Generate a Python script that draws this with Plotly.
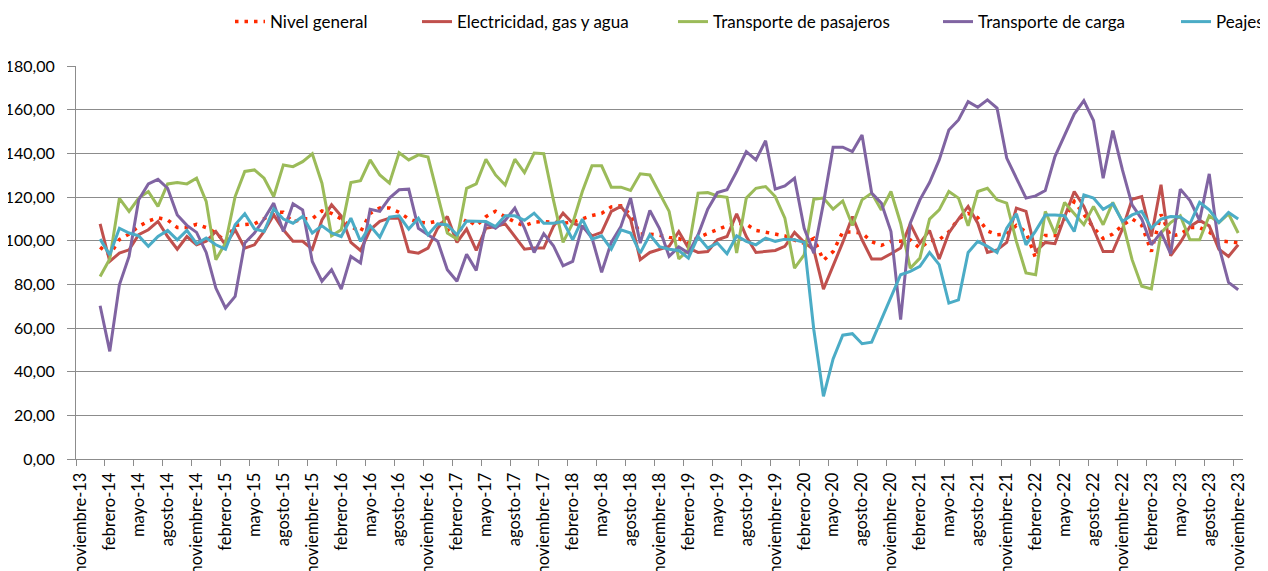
import plotly.graph_objects as go

# ---- categories (monthly, nov-2013 .. nov-2023) ----
month_names = ["enero", "febrero", "marzo", "abril", "mayo", "junio", "julio",
               "agosto", "septiembre", "octubre", "noviembre", "diciembre"]
categories = []
y, m = 2013, 11
while (y, m) <= (2023, 11):
    categories.append(f"{month_names[m-1]}-{str(y)[2:]}")
    m += 1
    if m > 12:
        m, y = 1, y + 1

# series values (first two months have no data)
nivel_general = [None, None,
    97, 93.5, 100.5, 103, 106.5, 109, 110.5, 109.5, 106, 106, 107.5, 106, 103.5, 99.5, 107, 107.5, 107.7, 110, 113,
    113, 108.5, 110, 110, 113.6, 112.5, 110, 106.5, 104, 112.5, 115, 115, 113, 110, 108.5, 108, 109, 105, 102, 110,
    106.8, 111, 113.5, 111, 108.5, 106.8, 108.5, 108.8, 108.4, 108, 108.5, 110, 111.5, 112.5, 115.5, 116, 112, 103, 103, 102.5,
    101.5, 101, 98.7, 101.5, 103.2, 105.3, 106.8, 108, 107.5, 104.7, 103.8, 103.2, 102.2, 100.2, 98.8, 101, 91, 95, 104, 104,
    103.5, 99.5, 97.8, 99.7, 99.7, 100.4, 96.5, 100, 100.4, 104, 110, 112.5, 110.5, 104.5, 102.7, 103, 107, 104, 92,
    102.4, 102.4, 110, 118, 112, 106, 101, 103, 107, 110, 107, 95, 112, 102, 103, 106, 106, 104, 100, 99.5, 99]

electricidad = [None, None,
    107.7, 90.5, 94.3, 95.8, 102.7, 105, 108.8, 101.9, 96.1, 101.9, 98.1, 99.7, 104.2, 98.1, 105, 96.6, 98.1, 104.2, 111.8,
    105, 99.7, 99.7, 96.1, 109.5, 116.4, 111.3, 99.2, 95.5, 105, 108.8, 110.3, 110.3, 95, 94.3, 96.6, 105.7, 111.1, 99.2, 105.3,
    95.5, 105.7, 106.5, 107.7, 101.9, 96.1, 96.6, 96.6, 106.5, 112.6, 108, 106.5, 102.2, 103.8, 113.4, 115.7, 109.9, 91.3, 94.6, 96.1,
    97.4, 104.2, 96.6, 94.6, 95, 100.4, 101.9, 112.3, 101.9, 94.6, 95, 95.5, 97.4, 103.8, 99.2, 95.8, 77.8, 88.5, 99.2, 111,
    100.4, 91.6, 91.6, 94, 96.6, 107.7, 98.9, 104.7, 91.6, 103.5, 109.9, 115.7, 108, 94.6, 95.8, 99.2, 114.9, 113.4, 95,
    99.2, 98.6, 110.8, 122.5, 115.7, 105.7, 95, 95, 105.3, 119, 120.2, 101.9, 125.6, 93.1, 99.2, 106.5, 109.3, 106.8, 96.1, 92.8, 98.1]

pasajeros = [None, None,
    83.6, 91.6, 119.4, 113.4, 119.5, 122.5, 115.7, 126, 126.6, 126, 128.6, 118, 91.3, 98.9, 120.2, 131.7, 132.4, 128.6, 120.2,
    134.7, 133.9, 136.2, 139.8, 126.3, 102.2, 105, 126.6, 127.5, 137, 130.1, 126.3, 140.3, 137, 139.3, 138.3, 120.2, 103.5, 100.7, 124,
    126, 137.3, 130.1, 125.5, 137.3, 131.2, 140.1, 139.8, 118.7, 99.2, 108, 122.5, 134.3, 134.3, 124.5, 124.5, 123, 130.6, 130.1, 121.8,
    113.4, 91.6, 95.8, 121.8, 122, 120.5, 119.9, 94.3, 119.5, 124, 124.8, 120.2, 110.3, 87.4, 93.5, 119, 119.5, 114.4, 118.2, 107,
    118.7, 121.8, 114.1, 122.5, 108, 87.4, 92, 109.9, 114.1, 122.5, 119.5, 106.8, 122.5, 124, 118.7, 117.2, 99.7, 85.2, 84.4,
    113.4, 103.2, 117.5, 112.3, 107.3, 115.7, 107.3, 117.5, 108.8, 91.3, 79.1, 77.9, 103.5, 108.3, 111.4, 100.4, 100.4, 111.4, 108.3, 112.3, 103.5]

carga = [None, None,
    70.2, 49.3, 79.8, 92.8, 118.7, 126, 128.1, 124, 111.8, 107, 103.8, 94.6, 78.3, 69.2, 74.5, 98.9, 103.5, 109.9, 117.2,
    104.2, 116.9, 114.1, 90.5, 81.4, 86.7, 77.8, 92.8, 89.8, 114.4, 113.4, 119.5, 123.3, 123.6, 105.7, 102.7, 99.7, 86.7, 81.4, 93.8,
    86.4, 108, 105.7, 109.3, 114.9, 105.7, 94.6, 103.2, 97.7, 88.5, 90.5, 106.8, 101.2, 85.5, 99.2, 106.5, 119.5, 98.9, 113.8, 105.5,
    92.8, 97.1, 94.3, 102.7, 114.4, 122, 123.3, 131.7, 140.8, 137, 145.8, 123.6, 125.1, 128.6, 105.7, 94.3, 117.2, 142.8, 142.8, 140.8,
    148.4, 121.8, 117.2, 104.2, 63.8, 108, 118.7, 126.6, 137, 150.7, 155.3, 163.7, 161.1, 164.5, 160.7, 137.8, 128.6, 119.5, 120.5,
    123, 138.5, 148.4, 158, 164.1, 155, 128.6, 150.4, 132.4, 116.4, 109.9, 98.1, 103.8, 94, 123.6, 118.4, 109.3, 130.6, 97.4, 80.9, 77.5]

peajes = [None, None,
    100.7, 93.5, 105.7, 103.5, 102.2, 97.4, 101.9, 104.7, 100.4, 104.7, 98.6, 101.2, 98.1, 96.1, 107.3, 112.3, 105.4, 104.2, 114.5,
    109.9, 108, 111.1, 103.5, 106.8, 103.5, 101.9, 110.3, 99.7, 106.8, 101.6, 110.8, 111.4, 105.3, 110.3, 102.7, 107.7, 107.2, 102.7, 109,
    108.8, 108.8, 106.5, 111.4, 111.4, 109.3, 112.6, 108, 108, 108.8, 100.4, 109.9, 100.7, 102.2, 96.1, 105, 103.5, 94.3, 102.7, 97.2,
    96.1, 95.5, 92, 101.9, 96.6, 98.9, 94, 102.2, 99.7, 98.1, 101.2, 99.7, 100.7, 100.4, 99.2, 59.2, 28.7, 45.8, 56.7, 57.4,
    52.8, 53.5, 63.8, 74.2, 84.4, 85.9, 88.2, 94.6, 89, 71.4, 72.9, 94.6, 99.7, 97.4, 94.6, 105.7, 112.3, 98.1, 104.5,
    111.8, 111.8, 111.4, 104.2, 121, 119.5, 114.4, 116.9, 108.8, 111.8, 113.4, 105.7, 109.9, 111.1, 110.8, 107.7, 117.5, 114.1, 108.3, 112.9, 109.9]

y_ticks = [0, 20, 40, 60, 80, 100, 120, 140, 160, 180]
label_step = 3

# ---- figure ----
x_idx = list(range(len(categories)))
series = [
    ("Nivel general", nivel_general, "#FF2A00", "3.5px,6px", 3.5),
    ("Electricidad, gas y agua", electricidad, "#C0504D", "solid", 3),
    ("Transporte de pasajeros", pasajeros, "#9BBB59", "solid", 3),
    ("Transporte de carga", carga, "#8064A2", "solid", 3),
    ("Peajes", peajes, "#4BACC6", "solid", 3),
]
legend_ids = ["legend", "legend2", "legend3", "legend4", "legend5"]
legend_text_px = [270, 457, 713, 978, 1216]   # page x where each legend text starts

fig = go.Figure()
for (name, vals, color, dash, w), lid in zip(series, legend_ids):
    fig.add_trace(go.Scatter(x=x_idx, y=vals, name=name, mode="lines",
                             line=dict(color=color, width=w, dash=dash),
                             connectgaps=False, legend=lid, showlegend=True))

# page has an 8px body margin; figure is sized so it ends at the window edge
PAGE_OFF = 8
W, H = 1268 - PAGE_OFF, 571 - PAGE_OFF
plot_left, plot_right, plot_top, plot_bottom = 76, 1243, 66, 459.5   # page px
L = plot_left - PAGE_OFF
T = plot_top - PAGE_OFF
R = (W + PAGE_OFF) - plot_right
B = (H + PAGE_OFF) - plot_bottom
plot_w = plot_right - plot_left
plot_h = plot_bottom - plot_top
font_fam = "Lato, 'Open Sans', sans-serif"

legend_common = dict(orientation="h", yanchor="middle", xanchor="left",
                     y=1 + (plot_top - 22) / plot_h, bgcolor="rgba(0,0,0,0)",
                     font=dict(family=font_fam, size=17, color="#000"))
layout_legends = {}
for lid, tx in zip(legend_ids, legend_text_px):
    layout_legends[lid] = dict(legend_common, x=(tx - 40 - plot_left) / plot_w)

fig.update_layout(
    width=W, height=H,
    margin=dict(l=L, r=R, t=T, b=B, autoexpand=False),
    paper_bgcolor="white", plot_bgcolor="white",
    separators=",.",
    template="none",
    showlegend=True,
    font=dict(family=font_fam, color="#000"),
    **layout_legends,
)
fig.update_xaxes(
    range=[-0.5, len(categories) - 0.5],
    tickmode="array",
    tickvals=x_idx[::label_step],
    ticktext=categories[::label_step],
    tickangle=-90,
    ticks="",
    ticklabelstandoff=6,
    showgrid=False, zeroline=False,
    showline=True, linecolor="#8C8C8C", linewidth=1,
    tickfont=dict(family=font_fam, size=16.5, color="#000"),
    automargin=False,
    minor=dict(ticks="outside", tickmode="linear", tick0=-0.5, dtick=label_step,
               ticklen=6, tickcolor="#8C8C8C", tickwidth=1, showgrid=False),
)
fig.update_yaxes(
    range=[0, 180],
    tickmode="array", tickvals=y_ticks, tickformat=".2f",
    ticks="outside", ticklen=8, tickcolor="#8C8C8C",
    ticklabelstandoff=9,
    showgrid=True, gridcolor="#8C8C8C", gridwidth=1,
    zeroline=False,
    showline=True, linecolor="#8C8C8C", linewidth=1,
    tickfont=dict(family=font_fam, size=16, color="#000"),
    automargin=False,
)
fig.write_html("out.html")
